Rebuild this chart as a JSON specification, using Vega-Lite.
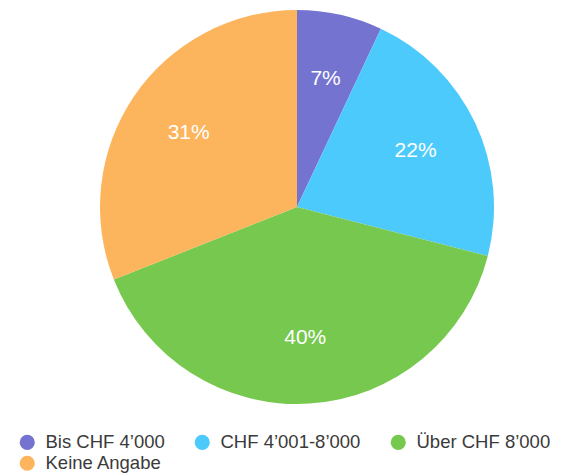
{
  "$schema": "https://vega.github.io/schema/vega-lite/v6.json",
  "width": 580,
  "height": 394,
  "padding": {"left": 7, "top": 10, "right": 0, "bottom": 0},
  "background": "white",
  "config": {"view": {"stroke": null}, "font": "Liberation Sans"},
  "data": {
    "values": [
      {"cat": "Bis CHF 4’000", "value": 7, "order": 1, "label": "7%"},
      {"cat": "CHF 4’001-8’000", "value": 22, "order": 2, "label": "22%"},
      {"cat": "Über CHF 8’000", "value": 40, "order": 3, "label": "40%"},
      {"cat": "Keine Angabe", "value": 31, "order": 4, "label": "31%"}
    ]
  },
  "encoding": {
    "theta": {"field": "value", "type": "quantitative", "stack": true},
    "order": {"field": "order", "type": "quantitative"}
  },
  "layer": [
    {
      "mark": {"type": "arc", "outerRadius": 197},
      "encoding": {
        "color": {
          "field": "cat",
          "type": "nominal",
          "scale": {
            "domain": ["Bis CHF 4’000", "CHF 4’001-8’000", "Über CHF 8’000", "Keine Angabe"],
            "range": ["#7474d0", "#4dcafc", "#77c84f", "#fcb45d"]
          },
          "legend": {
            "title": null,
            "orient": "bottom",
            "direction": "horizontal",
            "columns": 3,
            "symbolType": "circle",
            "symbolSize": 230,
            "symbolOpacity": 1,
            "labelFontSize": 18.5,
            "labelColor": "#3a3a3a",
            "labelOffset": 9,
            "columnPadding": 28,
            "rowPadding": 2,
            "padding": 11,
            "offset": 18
          }
        }
      }
    },
    {
      "mark": {"type": "text", "radius": 131, "fontSize": 21, "fill": "white"},
      "encoding": {"text": {"field": "label", "type": "nominal"}}
    }
  ]
}
